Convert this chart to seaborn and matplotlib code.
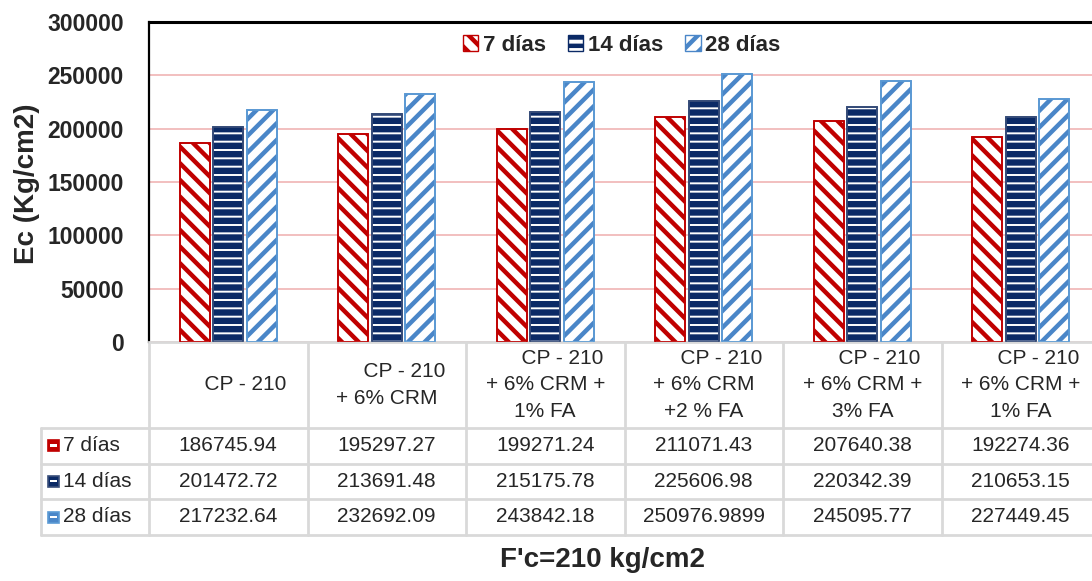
import matplotlib
matplotlib.use("Agg")
import matplotlib.pyplot as plt
import matplotlib.transforms as mtransforms
from matplotlib.patches import Patch, Rectangle
import seaborn as sns
import pandas as pd

# datos del gráfico
categorias = ["CP - 210", "CP - 210\n+ 6% CRM", "CP - 210\n+ 6% CRM +\n1% FA",
              "CP - 210\n+ 6% CRM\n+2 % FA", "CP - 210\n+ 6% CRM +\n3% FA",
              "CP - 210\n+ 6% CRM +\n1% FA"]
edades = ["7 días", "14 días", "28 días"]
ec_7 = [186745.94, 195297.27, 199271.24, 211071.43, 207640.38, 192274.36]
ec_14 = [201472.72, 213691.48, 215175.78, 225606.98, 220342.39, 210653.15]
ec_28 = [217232.64, 232692.09, 243842.18, 250976.9899, 245095.77, 227449.45]
etiquetas_tabla = [
    ["186745.94", "195297.27", "199271.24", "211071.43", "207640.38", "192274.36"],
    ["201472.72", "213691.48", "215175.78", "225606.98", "220342.39", "210653.15"],
    ["217232.64", "232692.09", "243842.18", "250976.9899", "245095.77", "227449.45"],
]

colores = ["#C00000", "#0B2A66", "#4A86C8"]
bordes = ["#C00000", "#3A4F7A", "#5B9BD5"]
tramas = ["\\\\", "--", "//"]

sns.set_style("white")
plt.rcParams['font.family'] = ['Liberation Sans', 'DejaVu Sans']
plt.rcParams['hatch.linewidth'] = 3.2

df = pd.DataFrame({
    "grupo": list(range(6)) * 3,
    "edad": [e for e in edades for _ in range(6)],
    "Ec": ec_7 + ec_14 + ec_28,
})

fig = plt.figure(figsize=(10.92, 5.81), dpi=100)
W, H = 1092, 581
ax = fig.add_axes([149 / W, 239 / H, 951 / W, 320 / H])

sns.barplot(data=df, x="grupo", y="Ec", hue="edad", hue_order=edades,
            width=0.63, gap=0.1, ax=ax, legend=False, native_scale=True)

for cont, c, b, h in zip(ax.containers, colores, bordes, tramas):
    for bar in cont:
        bar.set_facecolor("white")
        bar.set_edgecolor(c)
        bar.set_hatch(h)
        bar.set_linewidth(1.2)
        if hasattr(bar, "set_hatch_linewidth"):
            bar.set_hatch_linewidth(4.6 if h == "--" else 3.2)
    # borde exterior con otro tono
    for bar in cont:
        x0, y0 = bar.get_xy()
        ax.add_patch(Rectangle((x0, y0), bar.get_width(), bar.get_height(),
                               fill=False, edgecolor=b, linewidth=1.2, zorder=3))

ax.set_xlim(-0.5, 5.5)
ax.set_ylim(0, 300000)
ax.set_yticks(range(0, 300001, 50000))
ax.set_yticklabels([str(v) for v in range(0, 300001, 50000)],
                   fontsize=16.5, fontweight="bold")
ax.tick_params(axis="y", length=0, pad=18)
ax.set_xticks([])
ax.set_xlabel("")
ax.set_ylabel("")
ax.yaxis.grid(True, color="#F0B4B4", linewidth=1.2)
ax.set_axisbelow(True)
ax.spines["top"].set_color("black")
ax.spines["top"].set_linewidth(2.2)
ax.spines["left"].set_color("black")
ax.spines["left"].set_linewidth(1.6)
ax.spines["bottom"].set_color("#D9D9D9")
ax.spines["bottom"].set_linewidth(2)
ax.spines["right"].set_visible(False)

# leyenda superior
manejadores = [Patch(facecolor="white", edgecolor=c, hatch=h)
               for c, h in zip(colores, tramas)]
ax.legend(manejadores, edades, loc="center", bbox_to_anchor=(0.497, 0.928),
          ncol=3, frameon=False, handlelength=0.7, handleheight=0.7,
          handletextpad=0.2, columnspacing=1.0,
          prop={"size": 16, "weight": "bold"})

# tabla de datos
tr = mtransforms.blended_transform_factory(ax.transData, ax.transAxes)
px = 158.5
x_izq = -0.5 - 108 / px
filas_y = [0, -86 / 320, -121.5 / 320, -157 / 320, -193 / 320]
gris = "#D9D9D9"
for i in range(7):
    ax.plot([-0.5 + i, -0.5 + i], [0, filas_y[-1]], color=gris, lw=2,
            transform=tr, clip_on=False)
ax.plot([x_izq, x_izq], [filas_y[1], filas_y[-1]], color=gris, lw=2,
        transform=tr, clip_on=False)
for yy in filas_y[1:]:
    ax.plot([x_izq, 5.5], [yy, yy], color=gris, lw=2, transform=tr, clip_on=False)

for i, cat in enumerate(categorias):
    lineas = cat.split("\n")
    lineas[0] = "      " + lineas[0]
    ax.text(i, (filas_y[0] + filas_y[1]) / 2, "\n".join(lineas), transform=tr,
            ha="center", va="center", multialignment="center", fontsize=15,
            linespacing=1.5, color="#262626")

for r in range(3):
    yc = (filas_y[r + 1] + filas_y[r + 2]) / 2
    for i in range(6):
        ax.text(i, yc, etiquetas_tabla[r][i], transform=tr, ha="center",
                va="center", fontsize=15, color="#262626")
    # icono pequeño de la serie
    xi = -0.5 + (48 - 149) / px
    ax.add_patch(Rectangle((xi, yc - 5.5 / 320), 11 / px, 11 / 320,
                           facecolor=colores[r], edgecolor=bordes[r], lw=1.2,
                           transform=tr, clip_on=False))
    ax.add_patch(Rectangle((xi + 2 / px, yc - 1 / 320), 7 / px, 2.5 / 320,
                           facecolor="white", edgecolor="none",
                           transform=tr, clip_on=False))
    ax.text(-0.5 + (63 - 149) / px, yc, edades[r], transform=tr, ha="left",
            va="center", fontsize=15, color="#262626")

fig.text(27 / W, (H - 184) / H, "Ec (Kg/cm2)", rotation=90, ha="center",
         va="center", fontsize=20, fontweight="bold")
fig.text(603 / W, (H - 560) / H, "F'c=210 kg/cm2", ha="center", va="center",
         fontsize=20, fontweight="bold")

fig.savefig("out.png", dpi=100)
